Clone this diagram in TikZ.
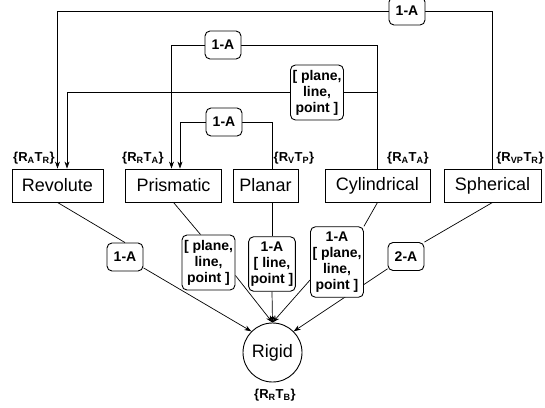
\documentclass[tikz,border=0pt]{standalone}
\usepackage{fontspec}
\setmainfont{Liberation Sans}
\usetikzlibrary{arrows.meta,backgrounds}
\begin{document}
\begin{tikzpicture}[x=1pt,y=-1pt,
  joint/.style={draw,line width=0.9pt,fill=white,minimum height=33pt,inner sep=0pt,
    font=\fontsize{18}{20}\selectfont},
  cond/.style={draw,line width=0.9pt,fill=white,rounded corners=5pt,align=center,
    inner xsep=2pt,inner ysep=5pt,minimum width=36pt,minimum height=28pt,
    font=\bfseries\fontsize{14}{16}\selectfont},
  dof/.style={inner sep=0pt,font=\bfseries\fontsize{13}{15}\selectfont},
  link/.style={line width=0.7pt},
  feed/.style={link,-{Stealth[length=7pt,width=5pt]}},
]
\useasboundingbox (0,0) rectangle (545,407);

% joint types
\node[joint,minimum width=91pt]  (rev) at (57.5,185.5)  {Revolute};
\node[joint,minimum width=96pt]  (pri) at (173.5,185.5) {Prismatic};
\node[joint,minimum width=65pt]  (pla) at (265.5,185.5) {Planar};
\node[joint,minimum width=105pt] (cyl) at (377.5,185.5) {Cylindrical};
\node[joint,minimum width=97pt]  (sph) at (492.5,185.5) {Spherical};
\node[circle,draw,line width=0.9pt,fill=white,minimum size=59pt,inner sep=0pt,
  font=\fontsize{18}{20}\selectfont] (rigid) at (272.5,352.5) {Rigid};

% degrees of freedom
\node[dof] (lrev) at (34,158)  {\{R\textsubscript{A}T\textsubscript{R}\}};
\node[dof] (lpri) at (143,158) {\{R\textsubscript{R}T\textsubscript{A}\}};
\node[dof] (lpla) at (294,158) {\{R\textsubscript{V}T\textsubscript{P}\}};
\node[dof] (lcyl) at (408,158) {\{R\textsubscript{A}T\textsubscript{A}\}};
\node[dof] (lsph) at (520,158) {\{R\textsubscript{VP}T\textsubscript{R}\}};
\node[dof] (lrig) at (275,395) {\{R\textsubscript{R}T\textsubscript{B}\}};

% conditions on the transitions
\node[cond] (topA) at (407,11)     {1-A};
\node[cond] (midA) at (223,45)     {1-A};
\node[cond] (tplA) at (317,92.5)   {[ plane,\\line,\\point ]};
\node[cond] (lowA) at (224,122)    {1-A};
\node[cond] (revA) at (125,257)    {1-A};
\node[cond] (priA) at (208.5,262.5){[ plane,\\line,\\point ]};
\node[cond] (plaA) at (272,264)    {1-A\\{[} line,\\point ]};
\node[cond] (cylA) at (337,262)    {1-A\\{[} plane,\\line,\\point ]};
\node[cond] (twoA) at (406,256.5)  {2-A};

\begin{pgfonlayer}{background}
  % upward transitions
  \draw[link] (sph.north) |- (topA.east);
  \draw[feed] (topA.west) -| (rev.north);
  \draw[link] (cyl.north) |- (midA.east);
  \draw[feed] (midA.west) -| ([xshift=-2pt]pri.north);
  \coordinate (jn) at (cyl.north |- tplA.east);
  \draw[link] (jn) -- (tplA.east);
  \draw[feed] (tplA.west) -| ([xshift=9.5pt]rev.north);
  \draw[link] ([xshift=6.5pt]pla.north) |- (lowA.east);
  \draw[feed] (lowA.west) -| ([xshift=6.5pt]pri.north);
  % transitions to rigid
  \draw[link] (rev.south) -- (revA.north);
  \draw[link] (pri.south) -- ([xshift=-8pt]priA.north);
  \draw[link] ([xshift=6.5pt]pla.south) -- (plaA.north);
  \draw[link] (cyl.south) -- (cylA.north east);
  \draw[link] (sph.south) -- (twoA.north east);
  \draw[feed] (revA) -- (rigid.north west);
  \draw[feed] ([yshift=-13pt]priA.east) -- (rigid.north);
  \draw[feed] (plaA.south) -- (rigid.north);
  \draw[feed] ([yshift=-18pt]cylA.west) -- (rigid.north);
  \draw[feed] (twoA) -- (rigid.north east);
\end{pgfonlayer}
\end{tikzpicture}
\end{document}
